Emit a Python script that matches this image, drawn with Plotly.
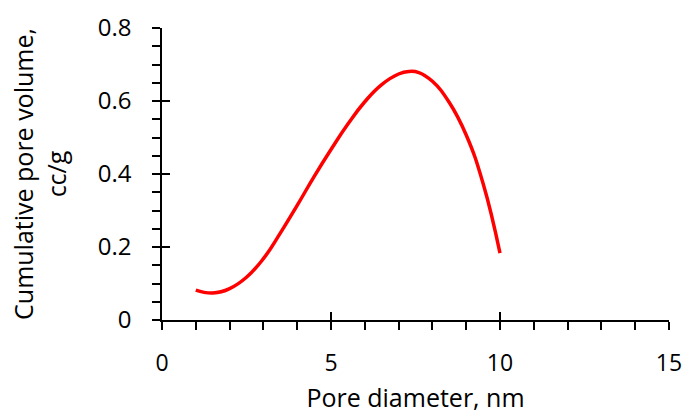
import plotly.graph_objects as go

pore_diameter = [1.0, 1.5, 2.0, 2.5, 3.0, 3.5, 4.0, 4.5, 5.0, 5.5, 6.0, 6.5, 7.0, 7.3, 7.6, 8.0, 8.5, 9.0, 9.5, 10.0]
pore_volume = [0.082, 0.074, 0.086, 0.117, 0.168, 0.238, 0.314, 0.393, 0.467, 0.537, 0.598, 0.645, 0.674, 0.681, 0.678, 0.654, 0.596, 0.507, 0.374, 0.183]

x_ticks = [0, 5, 10, 15]
y_ticks = [0, 0.2, 0.4, 0.6, 0.8]
x_range = [0, 15]
y_range = [0, 0.8]

FONT = "Open Sans"
fig = go.Figure()
fig.add_trace(go.Scatter(x=pore_diameter, y=pore_volume, mode="lines",
                         line=dict(color="#FF0000", width=3.5, shape="spline", smoothing=1.3),
                         showlegend=False, hoverinfo="skip"))
fig.add_trace(go.Scatter(x=[None], y=[None], xaxis="x2", yaxis="y2", mode="lines",
                         showlegend=False, hoverinfo="skip"))

fig.update_layout(
    width=684, height=414,
    margin=dict(l=162, r=15, t=28, b=94),
    paper_bgcolor="white", plot_bgcolor="white",
    font=dict(family=FONT, size=23, color="black"),
    xaxis=dict(range=x_range, tickvals=x_ticks, ticktext=[str(v) for v in x_ticks],
               automargin=False,
               showgrid=False, zeroline=False, showline=True, linecolor="black", linewidth=1.5,
               ticks="outside", ticklen=8, tickwidth=1.5, tickcolor="black",
               minor=dict(dtick=1, ticks="outside", ticklen=8, tickwidth=1.5, tickcolor="black"),
               ticklabelstandoff=14, tickfont=dict(size=23),
               title=dict(text="Pore diameter, nm", standoff=16, font=dict(size=25))),
    yaxis=dict(range=y_range, tickvals=y_ticks, ticktext=["0", "0.2", "0.4", "0.6", "0.8"],
               automargin=False,
               showgrid=False, zeroline=False, showline=True, linecolor="black", linewidth=1.5,
               ticks="outside", ticklen=8, tickwidth=1.5, tickcolor="black",
               minor=dict(dtick=0.05, ticks="outside", ticklen=8, tickwidth=1.5, tickcolor="black"),
               ticklabelstandoff=16, tickfont=dict(size=24),
               title=dict(text="Cumulative pore volume,<br>cc/g", standoff=24, font=dict(size=25))),
    xaxis2=dict(range=x_range, overlaying="x", tickvals=x_ticks, showticklabels=False,
                automargin=False,
                ticks="inside", ticklen=8, tickwidth=1.5, tickcolor="black",
                showgrid=False, zeroline=False, showline=False),
    yaxis2=dict(range=y_range, overlaying="y", tickvals=y_ticks, showticklabels=False,
                automargin=False,
                ticks="inside", ticklen=8, tickwidth=1.5, tickcolor="black",
                showgrid=False, zeroline=False, showline=False),
)
fig.write_html("out.html")
